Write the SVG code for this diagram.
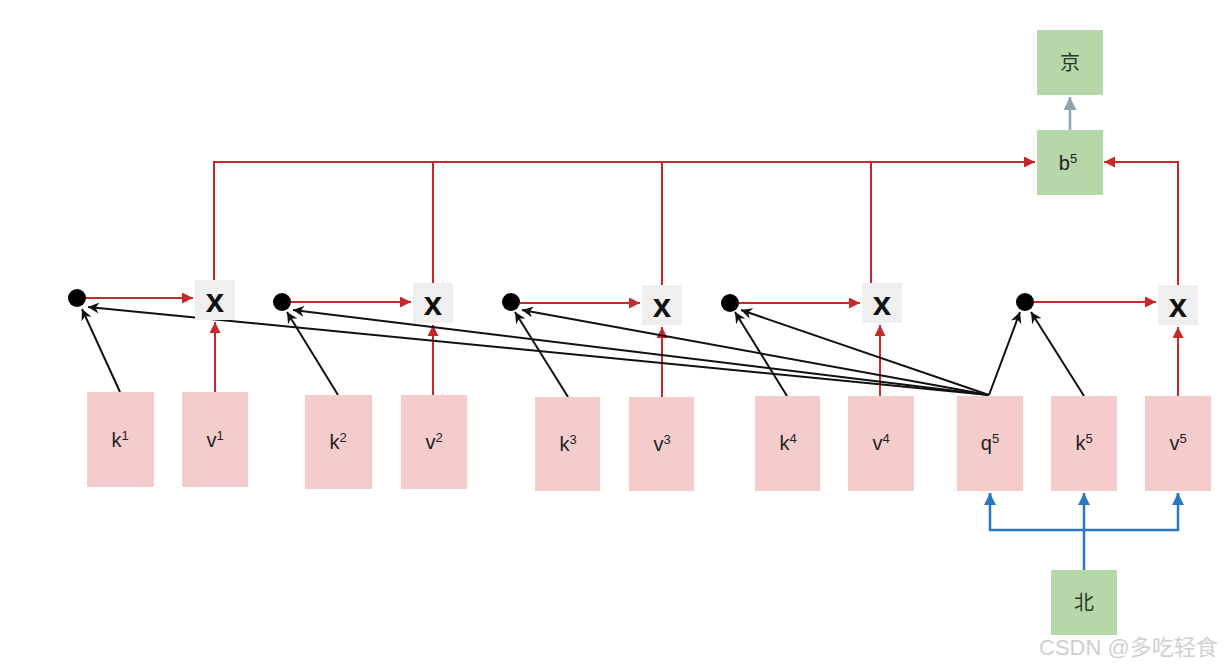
<svg xmlns="http://www.w3.org/2000/svg" width="1226" height="666" viewBox="0 0 1226 666">
<defs>
<style>
.pink{fill:#f4cccc}
.green{fill:#b6d7a8}
.xbox{fill:#efefef}
.lbl{font-family:"Liberation Sans",Arial,sans-serif;font-size:20px;fill:#222;text-anchor:middle}
.sup{font-size:13px}
.cjk{font-family:"Noto Sans CJK SC",sans-serif;font-size:20px;fill:#2a3a2a;text-anchor:middle}
.xt{font-family:"Liberation Sans",Arial,sans-serif;font-size:33px;font-weight:bold;fill:#111;text-anchor:middle}
.red{stroke:#c8282a;stroke-width:2;fill:none}
.blk{stroke:#111;stroke-width:2;fill:none}
.blue{stroke:#2b78c2;stroke-width:2.5;fill:none}
.gray{stroke:#8fa4ad;stroke-width:2.5;fill:none}
.wm{font-family:"Liberation Sans","Noto Sans CJK SC",sans-serif;font-size:22px;fill:#cfcfcf}
</style>
<marker id="ar" viewBox="0 0 10 10" refX="10" refY="5" markerWidth="13" markerHeight="11" markerUnits="userSpaceOnUse" orient="auto"><path d="M0,0 L10,5 L0,10 z" fill="#c8282a"/></marker>
<marker id="ab" viewBox="0 0 10 10" refX="10" refY="5" markerWidth="13" markerHeight="11" markerUnits="userSpaceOnUse" orient="auto"><path d="M0,0 L10,5 L0,10 L3,5 z" fill="#111"/></marker>
<marker id="au" viewBox="0 0 10 10" refX="10" refY="5" markerWidth="13" markerHeight="12" markerUnits="userSpaceOnUse" orient="auto"><path d="M0,0 L10,5 L0,10 z" fill="#2b78c2"/></marker>
<marker id="ag" viewBox="0 0 10 10" refX="10" refY="5" markerWidth="13" markerHeight="13" markerUnits="userSpaceOnUse" orient="auto"><path d="M0,0 L10,5 L0,10 z" fill="#8fa4ad"/></marker>
</defs>
<rect width="1226" height="666" fill="#ffffff"/>

<g id="connectors">
<path class="red" d="M214,280 V162 H1035" marker-end="url(#ar)"/>
<path class="red" d="M433,162 V283"/>
<path class="red" d="M662,162 V285"/>
<path class="red" d="M871,162 V283"/>
<path class="red" d="M1178,285 V162 H1104" marker-end="url(#ar)"/>
<path class="red" d="M86,298 H193" marker-end="url(#ar)"/>
<path class="red" d="M291,302 H411" marker-end="url(#ar)"/>
<path class="red" d="M520,303 H640" marker-end="url(#ar)"/>
<path class="red" d="M739,303 H860" marker-end="url(#ar)"/>
<path class="red" d="M1034,302 H1156" marker-end="url(#ar)"/>
<path class="red" d="M215,392 V322" marker-end="url(#ar)"/>
<path class="red" d="M433,395 V325" marker-end="url(#ar)"/>
<path class="red" d="M662,397 V327" marker-end="url(#ar)"/>
<path class="red" d="M880,396 V325" marker-end="url(#ar)"/>
<path class="red" d="M1178,396 V327" marker-end="url(#ar)"/>
<path class="blk" d="M989,395 L88,307" marker-end="url(#ab)"/>
<path class="blk" d="M989,395 L293,310" marker-end="url(#ab)"/>
<path class="blk" d="M989,395 L522,310" marker-end="url(#ab)"/>
<path class="blk" d="M989,395 L741,310" marker-end="url(#ab)"/>
<path class="blk" d="M989,395 L1020,312" marker-end="url(#ab)"/>
<path class="blk" d="M120,392 L82,309" marker-end="url(#ab)"/>
<path class="blk" d="M338,395 L287,312" marker-end="url(#ab)"/>
<path class="blk" d="M568,397 L515,312" marker-end="url(#ab)"/>
<path class="blk" d="M787,396 L735,312" marker-end="url(#ab)"/>
<path class="blk" d="M1084,396 L1031,312" marker-end="url(#ab)"/>
<path class="gray" d="M1070,130 V97" marker-end="url(#ag)"/>
<path class="blue" d="M1084,570 V493" marker-end="url(#au)"/>
<path class="blue" d="M990,493 V530 H1178 V493"/>
<path class="blue" d="M990,500 V493" marker-end="url(#au)"/>
<path class="blue" d="M1178,500 V493" marker-end="url(#au)"/>
</g>

<g id="dot1"><circle cx="77" cy="298" r="9" fill="#000"/></g>
<g id="dot2"><circle cx="282" cy="302" r="9" fill="#000"/></g>
<g id="dot3"><circle cx="511" cy="302" r="9" fill="#000"/></g>
<g id="dot4"><circle cx="730" cy="303" r="9" fill="#000"/></g>
<g id="dot5"><circle cx="1025" cy="302" r="9" fill="#000"/></g>

<g id="x1"><rect class="xbox" x="195" y="280" width="40" height="40"/><text class="xt" x="215" y="312">x</text></g>
<g id="x2"><rect class="xbox" x="413" y="283" width="40" height="40"/><text class="xt" x="433" y="315">x</text></g>
<g id="x3"><rect class="xbox" x="642" y="285" width="40" height="40"/><text class="xt" x="662" y="317">x</text></g>
<g id="x4"><rect class="xbox" x="862" y="283" width="40" height="40"/><text class="xt" x="882" y="315">x</text></g>
<g id="x5"><rect class="xbox" x="1158" y="285" width="40" height="40"/><text class="xt" x="1178" y="317">x</text></g>

<g id="k1"><rect class="pink" x="87" y="392" width="67" height="95"/><text class="lbl" x="120" y="447">k<tspan class="sup" dy="-7">1</tspan></text></g>
<g id="v1"><rect class="pink" x="182" y="392" width="66" height="95"/><text class="lbl" x="215" y="447">v<tspan class="sup" dy="-7">1</tspan></text></g>
<g id="k2"><rect class="pink" x="305" y="395" width="67" height="94"/><text class="lbl" x="338" y="449">k<tspan class="sup" dy="-7">2</tspan></text></g>
<g id="v2"><rect class="pink" x="401" y="395" width="66" height="94"/><text class="lbl" x="434" y="449">v<tspan class="sup" dy="-7">2</tspan></text></g>
<g id="k3"><rect class="pink" x="535" y="397" width="65" height="94"/><text class="lbl" x="568" y="451">k<tspan class="sup" dy="-7">3</tspan></text></g>
<g id="v3"><rect class="pink" x="629" y="397" width="65" height="94"/><text class="lbl" x="662" y="451">v<tspan class="sup" dy="-7">3</tspan></text></g>
<g id="k4"><rect class="pink" x="755" y="396" width="65" height="95"/><text class="lbl" x="788" y="450">k<tspan class="sup" dy="-7">4</tspan></text></g>
<g id="v4"><rect class="pink" x="848" y="396" width="66" height="95"/><text class="lbl" x="881" y="450">v<tspan class="sup" dy="-7">4</tspan></text></g>
<g id="q5"><rect class="pink" x="957" y="396" width="66" height="95"/><text class="lbl" x="990" y="450">q<tspan class="sup" dy="-7">5</tspan></text></g>
<g id="k5"><rect class="pink" x="1051" y="396" width="66" height="95"/><text class="lbl" x="1084" y="450">k<tspan class="sup" dy="-7">5</tspan></text></g>
<g id="v5"><rect class="pink" x="1145" y="396" width="66" height="95"/><text class="lbl" x="1178" y="450">v<tspan class="sup" dy="-7">5</tspan></text></g>

<g id="jing"><rect class="green" x="1037" y="30" width="66" height="65"/><text class="cjk" x="1070" y="70">京</text></g>
<g id="b5"><rect class="green" x="1037" y="130" width="66" height="65"/><text class="lbl" x="1068" y="170">b<tspan class="sup" dy="-7">5</tspan></text></g>
<g id="bei"><rect class="green" x="1051" y="570" width="66" height="65"/><text class="cjk" x="1084" y="610">北</text></g>

<text class="wm" x="1039" y="655">CSDN @多吃轻食</text>
</svg>
